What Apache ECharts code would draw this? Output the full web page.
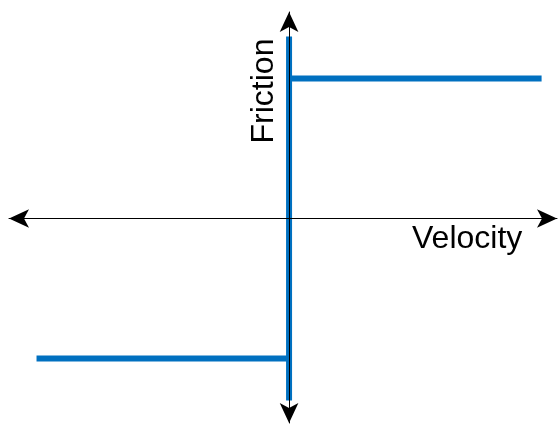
<!DOCTYPE html>
<html>
<head>
<meta charset="utf-8">
<script src="https://cdn.jsdelivr.net/npm/echarts@6/dist/echarts.min.js"></script>
<style>
  html, body { margin: 0; padding: 0; background: #fff; }
  #chart { width: 558px; height: 424px; }
</style>
</head>
<body>
<div id="chart"></div>
<script>
// Coulomb friction: friction = -1 for negative velocity, +1 for positive,
// anything in between at zero velocity
const lowerBranch = [[-1, -1], [0, -1]];
const stickBranch = [[0, -1.3], [0, 1.3]];
const upperBranch = [[0, 1], [1, 1]];

const xRange = [-1.109, 1.061];
const yRange = [-1.461, 1.475];

const blue = '#0070c0';

const lineSeries = (data) => ({
    type: 'line',
    data: data,
    symbol: 'none',
    silent: true,
    lineStyle: { color: blue, width: 6, cap: 'butt' }
});

const axisCommon = {
    type: 'value',
    z: 10,
    axisLine: {
        onZero: true,
        symbol: ['arrow', 'arrow'],
        symbolSize: [14, 20],
        lineStyle: { color: '#000', width: 1 }
    },
    axisTick: { show: false },
    axisLabel: { show: false },
    splitLine: { show: false }
};

const chart = echarts.init(document.getElementById('chart'));
chart.setOption({
    backgroundColor: '#fff',
    animation: false,
    grid: { left: 9, right: 1, top: 12, bottom: 1 },
    xAxis: Object.assign({}, axisCommon, { min: xRange[0], max: xRange[1] }),
    yAxis: Object.assign({}, axisCommon, { min: yRange[0], max: yRange[1] }),
    series: [
        lineSeries(lowerBranch),
        lineSeries(stickBranch),
        lineSeries(upperBranch)
    ],
    graphic: [
        {
            type: 'text',
            x: 412,
            y: 239.5,
            style: {
                text: 'Velocity',
                font: '32px "Liberation Sans", Arial, sans-serif',
                fill: '#000',
                align: 'left',
                verticalAlign: 'middle'
            }
        },
        {
            type: 'text',
            x: 264,
            y: 91,
            rotation: Math.PI / 2,
            style: {
                text: 'Friction',
                font: '32px "Liberation Sans", Arial, sans-serif',
                fill: '#000',
                align: 'center',
                verticalAlign: 'middle'
            }
        }
    ]
});
</script>
</body>
</html>
